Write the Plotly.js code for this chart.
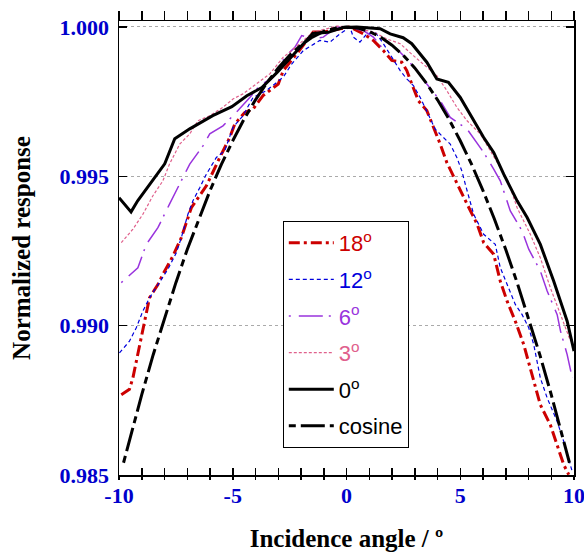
<!DOCTYPE html>
<html>
<head>
<meta charset="utf-8">
<script src="https://cdn.plot.ly/plotly-3.0.1.min.js"></script>
<style>html,body{margin:0;padding:0;background:#fff;}#chart{width:584px;height:555px;}</style>
</head>
<body>
<div id="chart"></div>
<script>
// ---- data ----
const x18 = [-9.90,-9.54,-9.39,-9.02,-8.66,-8.29,-8.07,-7.63,-7.26,-6.82,-6.16,-5.57,-5.13,-4.91,-4.47,-4.11,-3.67,-3.00,-2.78,-2.19,-1.46,-1.02,-0.29,0.15,0.74,1.18,1.62,1.99,2.43,2.65,2.87,3.16,3.53,3.90,4.12,4.41,4.63,4.93,5.30,5.74,6.03,6.47,6.76,7.06,7.42,7.79,8.16,8.52,8.96,9.26,9.55,9.77];
const y18 = [0.98769,0.98787,0.98825,0.98959,0.99093,0.99138,0.99172,0.99233,0.99295,0.99395,0.99468,0.99563,0.99630,0.99675,0.99714,0.99725,0.99770,0.99809,0.99854,0.99910,0.99983,0.99983,0.99994,1.00000,0.99977,0.99955,0.99921,0.99888,0.99882,0.99854,0.99809,0.99753,0.99720,0.99653,0.99608,0.99546,0.99513,0.99468,0.99407,0.99340,0.99278,0.99239,0.99149,0.99082,0.99015,0.98937,0.98836,0.98735,0.98668,0.98601,0.98534,0.98501];

const x12 = [-9.98,-9.54,-9.24,-8.95,-8.66,-8.36,-8.07,-7.85,-7.48,-7.26,-6.97,-6.75,-6.45,-6.16,-5.72,-5.35,-4.99,-4.55,-4.11,-3.52,-2.78,-2.41,-1.90,-1.17,-0.73,-0.29,0.15,0.30,0.59,0.89,1.26,1.62,1.99,2.36,2.65,2.94,3.24,3.60,3.90,4.26,4.56,4.85,5.07,5.22,5.59,6.03,6.54,6.76,7.13,7.42,7.72,8.01,8.23,8.52,8.82,9.26,9.55,9.77,9.92];
const y12 = [0.98909,0.98948,0.98993,0.99049,0.99093,0.99127,0.99160,0.99189,0.99244,0.99295,0.99373,0.99418,0.99462,0.99507,0.99563,0.99586,0.99664,0.99703,0.99764,0.99787,0.99832,0.99876,0.99921,0.99955,0.99949,0.99977,1.00000,0.99966,0.99949,0.99977,0.99983,0.99944,0.99899,0.99854,0.99826,0.99804,0.99764,0.99703,0.99658,0.99630,0.99608,0.99563,0.99518,0.99474,0.99373,0.99306,0.99272,0.99194,0.99127,0.99071,0.99037,0.98993,0.98937,0.98825,0.98758,0.98679,0.98612,0.98556,0.98512];

const x6 = [-9.90,-9.17,-8.80,-8.29,-7.78,-7.41,-6.89,-6.31,-6.01,-5.43,-4.77,-4.25,-3.81,-3.22,-2.71,-2.27,-1.97,-1.46,-1.02,-0.43,0.01,0.74,1.18,1.55,1.92,2.28,2.65,3.16,3.53,4.12,4.56,5.30,6.03,6.47,6.76,7.20,7.72,8.01,8.52,8.82,9.26,9.41,9.70,9.92];
const y6 = [0.99144,0.99194,0.99272,0.99328,0.99407,0.99462,0.99541,0.99602,0.99642,0.99669,0.99720,0.99764,0.99804,0.99832,0.99899,0.99932,0.99971,0.99960,0.99966,1.00000,1.00000,0.99988,0.99966,0.99932,0.99944,0.99921,0.99893,0.99848,0.99809,0.99753,0.99697,0.99658,0.99580,0.99524,0.99485,0.99384,0.99317,0.99256,0.99183,0.99116,0.99037,0.98981,0.98903,0.98826];

const x3 = [-9.90,-9.39,-8.95,-8.51,-8.07,-7.78,-7.33,-6.89,-6.53,-6.01,-5.43,-4.99,-4.55,-3.96,-3.37,-2.78,-2.41,-1.90,-1.46,-0.87,-0.43,0.15,1.18,1.77,2.36,2.94,3.53,3.97,4.41,4.85,5.30,5.88,6.32,6.76,7.20,7.50,8.08,8.52,8.96,9.41,9.85];
const y3 = [0.99278,0.99323,0.99373,0.99435,0.99485,0.99541,0.99608,0.99642,0.99686,0.99703,0.99731,0.99759,0.99776,0.99809,0.99843,0.99899,0.99921,0.99955,0.99983,0.99994,1.00003,1.00000,0.99983,0.99960,0.99944,0.99904,0.99865,0.99837,0.99787,0.99731,0.99686,0.99642,0.99586,0.99529,0.99462,0.99395,0.99306,0.99227,0.99127,0.99037,0.98948];

const x0 = [-10.00,-9.47,-9.18,-8.52,-7.99,-7.55,-6.89,-5.88,-5.04,-4.38,-3.72,-3.06,-2.27,-1.48,-0.81,-0.15,0.45,1.48,1.92,2.49,2.87,3.53,3.97,4.48,5.00,5.59,6.03,6.47,6.91,7.50,7.94,8.52,9.11,9.70,10.00];
const y0 = [0.99428,0.99381,0.99418,0.99485,0.99542,0.99626,0.99659,0.99703,0.99733,0.99770,0.99797,0.99847,0.99914,0.99978,0.99982,0.99998,1.00000,0.99994,0.99977,0.99964,0.99944,0.99882,0.99826,0.99815,0.99764,0.99686,0.99630,0.99580,0.99507,0.99418,0.99362,0.99272,0.99149,0.99015,0.98915];

const xCos = [-9.8,-9.5,-9.0,-8.5,-8.0,-7.5,-7.0,-6.5,-6.0,-5.5,-5.0,-4.5,-4.0,-3.5,-3.0,-2.5,-2.0,-1.5,-1.0,-0.5,0.0,0.5,1.0,1.5,2.0,2.5,3.0,3.5,4.0,4.5,5.0,5.5,6.0,6.5,7.0,7.5,8.0,8.5,9.0,9.5,9.8];
const yCos = [0.98541,0.98629,0.98769,0.98902,0.99027,0.99144,0.99255,0.99357,0.99452,0.99540,0.99619,0.99692,0.99756,0.99813,0.99863,0.99905,0.99939,0.99966,0.99985,0.99996,1.00000,0.99996,0.99985,0.99966,0.99939,0.99905,0.99863,0.99813,0.99756,0.99692,0.99619,0.99540,0.99452,0.99357,0.99255,0.99144,0.99027,0.98902,0.98769,0.98629,0.98541];

const legendNames = ['18', '12', '6', '3', '0', 'cosine'];
const yTickVals = [0.985, 0.990, 0.995, 1.000];
const yTickText = ['0.985', '0.990', '0.995', '1.000'];
const xMajorVals = [-10, -5, 0, 5, 10];
const xMajorText = ['-10', '-5', '0', '5', '10'];

// ---- geometry (pixels) ----
const W = 584, H = 555, ML = 119, MR = 10, MT = 12, MB = 76;
const paperH = H - MT - MB;
const fy = px => (H - MB - px) / paperH;      // pixel row -> paper fraction
const PLOT_TOP = 21, PLOT_BOT = 475;

// ---- styling ----
const C18 = '#cc0000', C12 = '#0000dd', C6 = '#9933dd', C3 = '#e0608c', C0 = '#000';
function nm(label, color, deg) {
  return '<span style="color:' + color + '">' + label + (deg ? '<sup>o</sup>' : '') + '</span>';
}

const traces = [
  {x: x18, y: y18, name: nm(legendNames[0], C18, true), legendgroup: 'a',
   line: {color: C18, width: 3, dash: '11px,4px,3px,4px'}},
  {x: x12, y: y12, name: nm(legendNames[1], C12, true), legendgroup: 'b',
   line: {color: C12, width: 1.2, dash: '4px,3px'}},
  {x: x6, y: y6, name: nm(legendNames[2], C6, true), legendgroup: 'c',
   line: {color: C6, width: 1.5, dash: '2px,8px,24px,6px'}},
  {x: x3, y: y3, name: nm(legendNames[3], C3, true), legendgroup: 'd',
   line: {color: C3, width: 1.2, dash: '3px,2px'}},
  {x: x0, y: y0, name: nm(legendNames[4], C0, true), legendgroup: 'e',
   line: {color: C0, width: 3}},
  {x: xCos, y: yCos, name: nm(legendNames[5], C0, false), legendgroup: 'f',
   line: {color: C0, width: 3, dash: '7px,5px,24px,5px'}}
].map(t => Object.assign({type: 'scatter', mode: 'lines'}, t));
// empty helper traces so the tick axes / tick strips get drawn
[['x2', 'y'], ['x3', 'y'], ['x5', 'y'], ['x6', 'y2'], ['x7', 'y3'], ['x8', 'y4']].forEach(p =>
  traces.push({type: 'scatter', mode: 'markers', x: [0], y: [50], xaxis: p[0], yaxis: p[1],
               showlegend: false, hoverinfo: 'skip', marker: {size: 1, color: 'rgba(0,0,0,0)'}}));

const tickFont = {family: 'Liberation Serif, Times New Roman, serif', size: 22, color: '#0000cc', weight: 'bold'};
const titleFont = {family: 'Liberation Serif, Times New Roman, serif', size: 25, color: '#000', weight: 'bold'};

function tickAxis(side, dir, len, line) {
  return {
    range: [-10, 10], overlaying: 'x', side: side, anchor: 'y',
    showline: line, linecolor: '#000',
    showgrid: false, showticklabels: false,
    zerolinecolor: 'rgba(0,0,0,0)',
    dtick: 1,
    ticks: dir, ticklen: len, tickcolor: '#000', tickwidth: 1.5
  };
}
// short tick marks drawn as the grid of a thin strip subplot
function stripX(anchor) {
  return {
    range: [-10, 10], anchor: anchor, showline: false, showticklabels: false, ticks: '',
    zeroline: false, dtick: 1, tick0: 0,
    showgrid: true, gridcolor: '#000', gridwidth: 1.5
  };
}
function stripY(top, bot) {
  return {
    domain: [fy(bot), fy(top)], range: [0, 1], anchor: 'x',
    showline: false, showgrid: false, zeroline: false, showticklabels: false, ticks: ''
  };
}

const layout = {
  width: W, height: H,
  margin: {l: ML, r: MR, t: MT, b: MB},
  paper_bgcolor: '#fff', plot_bgcolor: 'rgba(0,0,0,0)',
  showlegend: true,
  legend: {
    x: 0.36, y: fy(221), xanchor: 'left', yanchor: 'top',
    bgcolor: '#fff', bordercolor: '#000', borderwidth: 1,
    font: {family: 'Liberation Sans, Arial, sans-serif', size: 22, color: '#000'},
    traceorder: 'grouped', tracegroupgap: 5, itemwidth: 45
  },
  xaxis: {
    range: [-10, 10], side: 'bottom',
    showline: true, linecolor: '#000', linewidth: 1.5,
    tickmode: 'array', tickvals: xMajorVals, ticktext: xMajorText,
    ticks: '', showgrid: false,
    zerolinecolor: 'rgba(0,0,0,0)',
    tickfont: tickFont, ticklabeloverflow: 'allow',
    title: {text: 'Incidence angle / º', font: titleFont, standoff: 22}
  },
  xaxis2: tickAxis('bottom', 'inside', 7, false),
  xaxis5: tickAxis('bottom', 'outside', 4, false),
  xaxis3: tickAxis('top', 'outside', 9, true),
  xaxis4: {
    range: [-10, 10], overlaying: 'x', side: 'bottom', anchor: 'y',
    showline: false, showticklabels: false, ticks: '', zeroline: false,
    dtick: 5,
    showgrid: true, gridcolor: '#aaa', griddash: 'dot', gridwidth: 1
  },
  xaxis6: stripX('y2'),
  xaxis7: stripX('y3'),
  xaxis8: stripX('y4'),
  yaxis2: stripY(PLOT_BOT - 7, PLOT_BOT),
  yaxis3: stripY(PLOT_BOT, PLOT_BOT + 4),
  yaxis4: stripY(PLOT_TOP - 9, PLOT_TOP),
  yaxis: {
    domain: [fy(PLOT_BOT), fy(PLOT_TOP)],
    range: [0.985, 1.0002],
    showline: true, linecolor: '#000', linewidth: 1.5, mirror: 'ticks',
    tickmode: 'array', tickvals: yTickVals, ticktext: yTickText,
    ticks: 'inside', ticklen: 8, tickcolor: '#000', tickwidth: 1.5,
    ticklabelstandoff: 4,
    showgrid: true, gridcolor: '#aaa', griddash: 'dot', gridwidth: 1,
    zeroline: false,
    tickfont: tickFont,
    title: {text: 'Normalized response', font: titleFont, standoff: 22}
  }
};

Plotly.newPlot('chart', traces, layout, {staticPlot: true});
</script>
</body>
</html>
